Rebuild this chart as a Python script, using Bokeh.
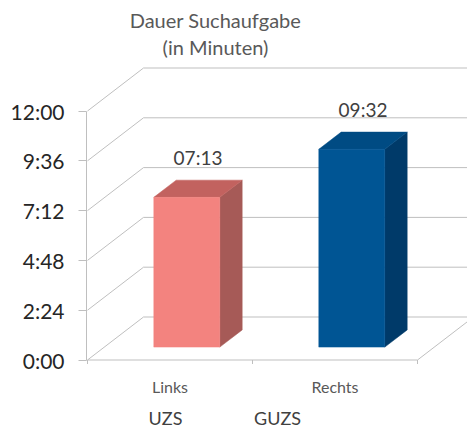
from bokeh.plotting import figure
from bokeh.models import Range1d, FixedTicker
from bokeh.core.properties import value
from bokeh.embed import file_html
from bokeh.resources import INLINE

# ---- data ----
categories = ["Links", "Rechts"]
groups = ["UZS", "GUZS"]
minutes = [7 + 13/60, 9 + 32/60]          # 07:13, 09:32
value_labels = ["07:13", "09:32"]
tick_values = [0, 2.4, 4.8, 7.2, 9.6, 12]
tick_labels = ["0:00", "2:24", "4:48", "7:12", "9:36", "12:00"]
title_lines = ["Dauer Suchaufgabe", "(in Minuten)"]

front_colors = ["#F3837F", "#005594"]
top_colors = ["#C2625F", "#004B83"]
side_colors = ["#A65A57", "#003A69"]

FONT = "Lato"

# ---- geometry (scale) ----
W, H = 467, 428
LEFT = 86
ZERO_Y = 359.5   # pixel row of 0:00
PXX = 165.0      # px per category
PXY = 20.75      # px per minute
x0 = -1 / PXX
x1 = x0 + (W - LEFT) / PXX
y0 = -(H - ZERO_Y) / PXY
y1 = ZERO_Y / PXY
DX, DY = 56 / PXX, 43 / PXY     # wall depth in data units
B0, B1 = 0.30, 0.70             # bar depth span (fraction of wall depth)
BW = 0.40                       # bar width (category units)

def px_x(ref_x):
    return x0 + (ref_x - LEFT) / PXX

def px_y(ref_y):
    return (ZERO_Y - ref_y) / PXY

p = figure(width=W, height=H, output_backend="svg", toolbar_location=None,
           x_range=Range1d(x0, x1), y_range=Range1d(y0, y1),
           min_border_left=LEFT, min_border_right=0, min_border_top=0, min_border_bottom=0,
           x_axis_location=None)
p.outline_line_color = None
p.grid.visible = False
p.background_fill_color = "white"
p.border_fill_color = "white"

ax = p.yaxis[0]
ax.ticker = FixedTicker(ticks=tick_values)
ax.major_label_overrides = {t: l for t, l in zip(tick_values, tick_labels)}
ax.bounds = (0, 12)
ax.axis_line_color = "#BFBFBF"
ax.major_tick_line_color = "#BFBFBF"
ax.major_tick_out = 8
ax.major_tick_in = 0
ax.minor_tick_line_color = None
ax.major_label_standoff = 14
ax.major_label_text_font = FONT
ax.major_label_text_font_size = "21px"
ax.major_label_text_color = "#262626"

GRID = "#BFBFBF"
n = len(categories)
# gridlines: diagonal on the left side wall + horizontal on back wall
for t in tick_values:
    p.segment(x0=[0], y0=[t], x1=[DX], y1=[t + DY], line_color=GRID, line_width=1)
    p.segment(x0=[DX], y0=[t + DY], x1=[x1 + 1], y1=[t + DY], line_color=GRID, line_width=1)
# floor
p.segment(x0=[0], y0=[0], x1=[n], y1=[0], line_color=GRID, line_width=1)
p.segment(x0=[n], y0=[0], x1=[n + DX], y1=[DY], line_color=GRID, line_width=1)
p.segment(x0=list(range(n + 1)), y0=[0] * (n + 1), x1=list(range(n + 1)),
          y1=[-4 / PXY] * (n + 1), line_color=GRID, line_width=1)

# bars
for i, v in enumerate(minutes):
    c = i + 0.5
    xl = c - BW / 2 + B0 * DX
    xr = c + BW / 2 + B0 * DX
    yb = B0 * DY
    yt = v + B0 * DY
    ddx = (B1 - B0) * DX
    ddy = (B1 - B0) * DY
    # side face
    p.patch([xr, xr + ddx, xr + ddx, xr], [yb, yb + ddy, yt + ddy, yt],
            fill_color=side_colors[i], line_color=side_colors[i], line_width=0.5)
    # top face
    p.patch([xl, xr, xr + ddx, xl + ddx], [yt, yt, yt + ddy, yt + ddy],
            fill_color=top_colors[i], line_color=top_colors[i], line_width=0.5)
    # front face
    p.quad(left=[xl], right=[xr], bottom=[yb], top=[yt],
           fill_color=front_colors[i], line_color=front_colors[i], line_width=0.5)
    # value label
    p.text(x=[(xl + xr + ddx) / 2], y=[v + B1 * DY + 23 / PXY], text=[value_labels[i]],
           text_align="center", text_baseline="middle", text_font=value(FONT),
           text_font_size="19px", text_color="#404040")

# category labels
p.text(x=[i + 0.5 for i in range(n)], y=[-26 / PXY] * n, text=categories,
       text_align="center", text_baseline="middle", text_font=value(FONT),
       text_font_size="16px", text_color="#595959")

# group labels
p.text(x=[px_x(165), px_x(277)], y=[px_y(417)] * 2, text=groups,
       text_align="center", text_baseline="middle", text_font=value(FONT),
       text_font_size="18px", text_color="#404040")

# title
p.text(x=[px_x(215)] * 2, y=[px_y(19), px_y(46)], text=title_lines,
       text_align="center", text_baseline="middle", text_font=value(FONT),
       text_font_size="20px", text_color="#595959")

open("out.html", "w").write(file_html(p, INLINE))
